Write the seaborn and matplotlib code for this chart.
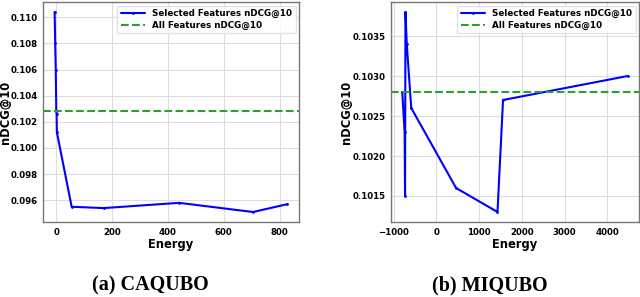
import matplotlib
matplotlib.use('Agg')
import matplotlib.pyplot as plt
import seaborn as sns

# CAQUBO: energy vs nDCG@10 of the selected feature subsets
caqubo_energy = [-6, -4, -2, 0, 1, 2, 55, 170, 440, 705, 828]
caqubo_ndcg = [0.1104, 0.1080, 0.1060, 0.1028, 0.1026, 0.1012,
               0.0955, 0.0954, 0.0958, 0.0951, 0.0957]
caqubo_all = 0.10285

# MIQUBO
miqubo_energy = [-800, -745, -735, -725, -695, -590, 460, 1430, 1560, 4480]
miqubo_ndcg = [0.10280, 0.10230, 0.10150, 0.10380, 0.10340, 0.10260,
               0.10160, 0.10130, 0.10270, 0.10300]
miqubo_all = 0.10280

captions = ['(a) CAQUBO', '(b) MIQUBO']

sns.set_theme(style='whitegrid')
plt.rcParams['font.family'] = ['DejaVu Sans']
plt.rcParams['text.color'] = 'black'
plt.rcParams['axes.labelcolor'] = 'black'
plt.rcParams['xtick.color'] = 'black'
plt.rcParams['ytick.color'] = 'black'

fig = plt.figure(figsize=(6.4, 2.97), dpi=100)
ax1 = fig.add_axes([43 / 640, 1 - 222 / 297, 256 / 640, 220 / 297])
ax2 = fig.add_axes([391 / 640, 1 - 222 / 297, 248 / 640, 220 / 297])

panels = [(ax1, caqubo_energy, caqubo_ndcg, caqubo_all, -0.122),
          (ax2, miqubo_energy, miqubo_ndcg, miqubo_all, -0.155)]

for ax, xs, ys, base, ylab_x in panels:
    sns.lineplot(x=xs, y=ys, ax=ax, color='blue', marker='.', markersize=4,
                 markeredgewidth=0, linewidth=1.5, sort=False,
                 label='Selected Features nDCG@10')
    ax.axhline(base, color='#2ca02c', linestyle='--', linewidth=1.5,
               label='All Features nDCG@10')
    ax.set_xlabel('Energy', fontsize=8.3, fontweight='bold', labelpad=1)
    ax.set_ylabel('nDCG@10', fontsize=8.3, fontweight='bold')
    ax.yaxis.set_label_coords(ylab_x, 0.5)
    ax.tick_params(axis='both', labelsize=6.2, length=2, pad=2, width=0.8)
    ax.grid(color='#dddddd', linewidth=0.8)
    for s in ax.spines.values():
        s.set_color('#777777')
        s.set_linewidth(1.0)
    leg = ax.legend(loc='upper right', prop={'size': 6.3, 'weight': 'bold'},
                    frameon=True, borderpad=0.4, handlelength=2.8,
                    labelspacing=0.3, borderaxespad=0.4)
    leg.get_frame().set_edgecolor('#dddddd')

ax1.set_xticks([0, 200, 400, 600, 800])
ax1.set_xticklabels(['0', '200', '400', '600', '800'], fontweight='bold')
ax1.set_yticks([0.096, 0.098, 0.100, 0.102, 0.104, 0.106, 0.108, 0.110])
ax1.set_yticklabels(['%.3f' % v for v in ax1.get_yticks()], fontweight='bold')
ax2.set_xticks([-1000, 0, 1000, 2000, 3000, 4000])
ax2.set_xticklabels(['\u22121000', '0', '1000', '2000', '3000', '4000'],
                    fontweight='bold')
ax2.set_yticks([0.1015, 0.1020, 0.1025, 0.1030, 0.1035])
ax2.set_yticklabels(['%.4f' % v for v in ax2.get_yticks()], fontweight='bold')

fig.text(150 / 640, 1 - 285 / 297, captions[0], ha='center', va='center',
         fontsize=14.5, family='Liberation Serif', fontweight='bold')
fig.text(490 / 640, 1 - 285 / 297, captions[1], ha='center', va='center',
         fontsize=14.5, family='Liberation Serif', fontweight='bold')

fig.savefig('out.png', dpi=100)
